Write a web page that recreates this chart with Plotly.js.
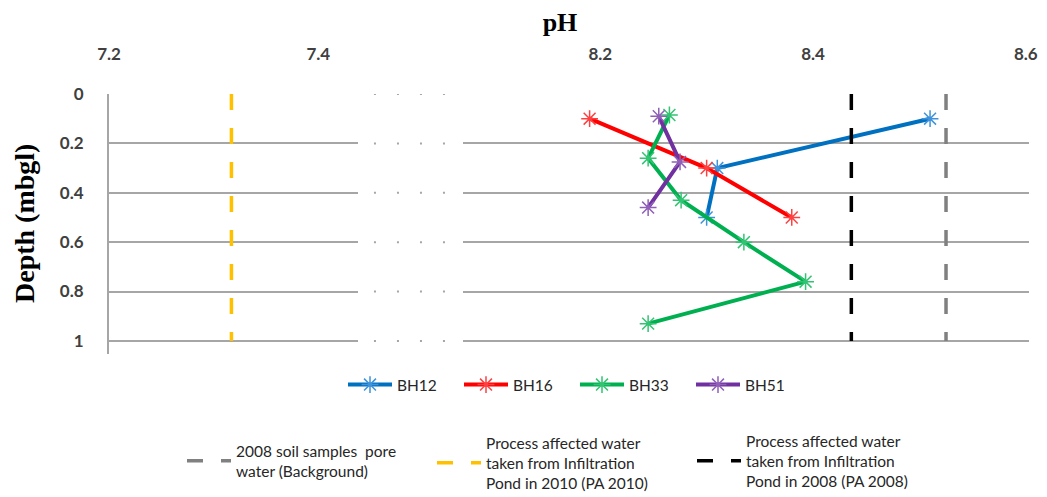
<!DOCTYPE html>
<html>
<head>
<meta charset="utf-8">
<script src="https://cdn.plot.ly/plotly-3.0.1.min.js"></script>
<style>
  html, body { margin: 0; padding: 0; background: #fff; }
  #chart { width: 1047px; height: 497px; }
</style>
</head>
<body>
<div id="chart"></div>
<script>
// Depth axis ticks (m below ground level)
const depthTicks = [0, 0.2, 0.4, 0.6, 0.8, 1];

// pH axis ticks, split into the low and high segments of the broken axis
const phTicksLow = [7.2, 7.4];
const phTicksHigh = [8.2, 8.4, 8.6];

// Borehole profiles: depth (mbgl) and pH
const bh12Depth = [0.1, 0.3, 0.5];
const bh12PH    = [8.51, 8.31, 8.30];

const bh16Depth = [0.1, 0.3, 0.5];
const bh16PH    = [8.19, 8.30, 8.38];

const bh33Depth = [0.085, 0.26, 0.43, 0.6, 0.76, 0.93];
const bh33PH    = [8.265, 8.245, 8.276, 8.335, 8.393, 8.245];

const bh51Depth = [0.09, 0.275, 0.46];
const bh51PH    = [8.255, 8.275, 8.245];

// Reference pH levels, drawn over the full depth range
const refDepth = [0, 1];
const backgroundPH = 8.525;  // 2008 soil samples pore water
const pa2010PH = 7.317;      // infiltration pond, 2010
const pa2008PH = 8.436;      // infiltration pond, 2008

const W = 1047, H = 497;

function borehole(name, depth, ph, color, markerColor) {
  return {
    type: 'scatter', mode: 'lines+markers', name: name,
    x: ph, y: depth, xaxis: 'x2', yaxis: 'y',
    line: { color: color, width: 4 },
    marker: { symbol: 'asterisk-open', size: 14, color: markerColor,
              line: { color: markerColor, width: 1.5 } },
    legend: 'legend'
  };
}

function refLine(name, ph, axis, color, legendId) {
  return {
    type: 'scatter', mode: 'lines', name: name,
    x: refDepth.map(() => ph), y: refDepth, xaxis: axis, yaxis: 'y',
    line: { color: color, width: 3.5, dash: '16px,18px' },
    hoverinfo: 'skip',
    legend: legendId
  };
}

const data = [
  borehole('BH12', bh12Depth, bh12PH, '#0070C0', '#3F93DB'),
  borehole('BH16', bh16Depth, bh16PH, '#FF0000', '#FF4040'),
  borehole('BH33', bh33Depth, bh33PH, '#00B050', '#33C473'),
  borehole('BH51', bh51Depth, bh51PH, '#7030A0', '#9060B8'),
  refLine('2008 soil samples  pore<br>water (Background)', backgroundPH, 'x2', '#808080', 'legend2'),
  refLine('Process affected water<br>taken from Infiltration<br>Pond in 2010 (PA 2010)', pa2010PH, 'x', '#FFC000', 'legend3'),
  refLine('Process affected water<br>taken from Infiltration<br>Pond in 2008 (PA 2008)', pa2008PH, 'x2', '#000000', 'legend4')
];

// Dotted marks across the axis break, one per depth gridline
const breakShapes = depthTicks.map(d => ({
  type: 'line', xref: 'paper', yref: 'y',
  x0: 0.288, x1: 0.372, y0: d, y1: d,
  line: { color: '#A6A6A6', width: 2, dash: '2px,21px' }
}));

const tickFont = { family: 'Lato, sans-serif', size: 17, color: '#404040', weight: 700 };
const legendFont = { family: 'Lato, sans-serif', size: 15.5, color: '#262626' };

const xCommon = {
  side: 'top', anchor: 'y', showgrid: false, zeroline: false, showline: false,
  ticks: '', ticklabelstandoff: 30, tickfont: tickFont
};

function legendAt(px, py, extra) {
  return Object.assign({
    orientation: 'h', xref: 'container', yref: 'container',
    x: px / W, xanchor: 'left', y: 1 - py / H, yanchor: 'middle',
    itemwidth: 44, font: legendFont, bgcolor: 'rgba(0,0,0,0)', borderwidth: 0
  }, extra || {});
}

const layout = {
  width: W, height: H,
  margin: { l: 109, r: 18, t: 94, b: 143, autoexpand: false },
  paper_bgcolor: '#ffffff', plot_bgcolor: '#ffffff',
  showlegend: true,
  title: {
    text: '<b>pH</b>', x: 560 / W, xanchor: 'center', xref: 'container',
    y: 1 - 22 / H, yanchor: 'middle', yref: 'container',
    font: { family: 'Liberation Serif, serif', size: 26, color: '#000' }
  },
  xaxis: Object.assign({}, xCommon, {
    domain: [0, 0.2707], range: [7.2, 7.438], tickvals: phTicksLow
  }),
  xaxis2: Object.assign({}, xCommon, {
    domain: [0.3848, 1], range: [8.071, 8.603], tickvals: phTicksHigh
  }),
  yaxis: {
    domain: [0, 1], range: [1.053, 0], tickvals: depthTicks,
    showgrid: true, gridcolor: '#A6A6A6', gridwidth: 2,
    showline: true, linecolor: '#A6A6A6', linewidth: 2,
    zeroline: false, ticks: '', ticklabelstandoff: 20, tickfont: tickFont
  },
  shapes: breakShapes,
  annotations: [{
    text: '<b>Depth (mbgl)</b>', textangle: -90,
    xref: 'paper', yref: 'paper', x: (24 - 109) / 920, y: (354 - 224) / 260,
    xanchor: 'center', yanchor: 'middle', showarrow: false,
    font: { family: 'Liberation Serif, serif', size: 28, color: '#000' }
  }],
  legend: legendAt(343, 385, { entrywidth: 57, entrywidthmode: 'pixels', traceorder: 'normal' }),
  legend2: legendAt(182, 461),
  legend3: legendAt(432, 463),
  legend4: legendAt(692, 461)
};

Plotly.newPlot('chart', data, layout, { displayModeBar: false, staticPlot: true });
</script>
</body>
</html>
